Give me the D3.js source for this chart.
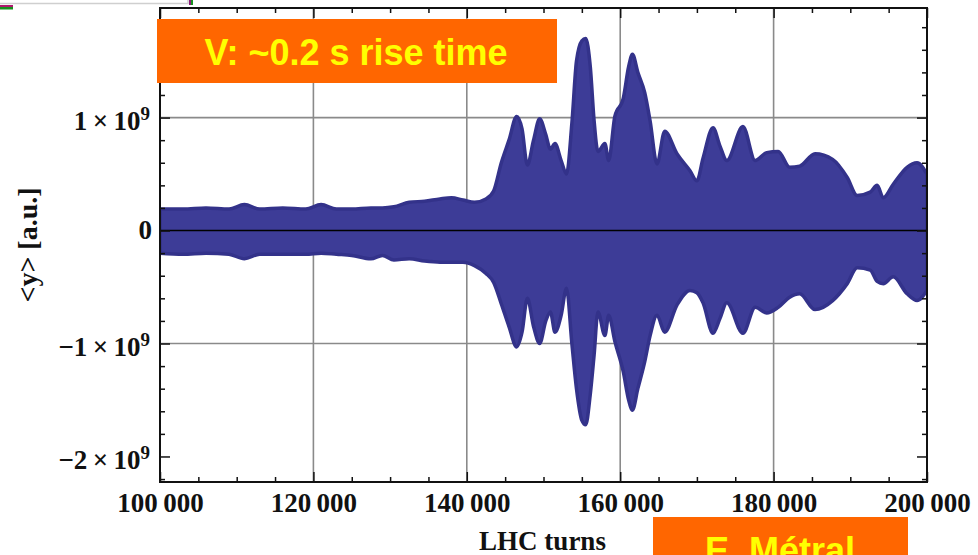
<!DOCTYPE html>
<html>
<head>
<meta charset="utf-8">
<script src="https://cdn.jsdelivr.net/npm/d3@7"></script>
<style>
  body { margin: 0; background: #fff; }
  svg { display: block; }
  .axis text { font-family: "Liberation Serif", "Times New Roman", serif; font-weight: bold; font-size: 27px; fill: #111; }
  .axis line { stroke: #111; stroke-width: 1.5; }
  .axis .domain { display: none; }
  .grid line { stroke: #8a8a8a; stroke-width: 1.6; }
  .axis-label { font-family: "Liberation Serif", "Times New Roman", serif; font-weight: bold; fill: #111; }
  .banner text { font-family: "Liberation Sans", Arial, sans-serif; font-weight: bold; font-size: 36px; fill: #ffff00; }
</style>
</head>
<body>
<div id="chart"></div>
<script>
// envelope of the <y> scatter, sampled along the turn axis (values in units of 1e9)
const turns = [100000, 103000, 106000, 109000, 111000, 113000, 116000, 119000, 121000, 123000,
  125000, 127500, 129000, 130500, 132500, 134500, 136500, 138000, 139500, 141000,
  142500, 143500, 144500, 145500, 146500, 147200, 147900, 148700, 149500, 150300,
  150900, 151500, 152300, 153000, 153700, 154300, 155000, 155500, 156100, 156600,
  157100, 158000, 158500, 159300, 160400, 161100, 161600, 162300, 163200, 163900,
  164800, 165800, 167400, 169100, 170000, 170800, 172100, 173000, 173900, 176000,
  177600, 179100, 180600, 182100, 183400, 185400, 187700, 189600, 190900, 192600,
  193500, 194300, 195600, 197400, 198700, 200000]
const upperEnv = [0.19, 0.19, 0.20, 0.19, 0.23, 0.19, 0.20, 0.19, 0.23, 0.19,
  0.19, 0.20, 0.20, 0.21, 0.25, 0.26, 0.28, 0.29, 0.27, 0.25,
  0.28, 0.35, 0.60, 0.80, 1.01, 0.90, 0.58, 0.80, 0.99, 0.85,
  0.72, 0.77, 0.62, 0.50, 0.95, 1.50, 1.68, 1.70, 1.45, 0.97,
  0.70, 0.77, 0.62, 1.01, 1.17, 1.45, 1.56, 1.40, 1.22, 0.97,
  0.59, 0.88, 0.68, 0.53, 0.44, 0.64, 0.91, 0.75, 0.62, 0.92,
  0.62, 0.69, 0.70, 0.56, 0.57, 0.68, 0.63, 0.47, 0.31, 0.34,
  0.40, 0.29, 0.41, 0.56, 0.60, 0.50]
const lowerEnv = [-0.20, -0.21, -0.20, -0.21, -0.25, -0.21, -0.21, -0.21, -0.20, -0.21,
  -0.22, -0.25, -0.22, -0.26, -0.25, -0.27, -0.28, -0.28, -0.28, -0.31,
  -0.38, -0.46, -0.65, -0.85, -1.03, -0.90, -0.60, -0.85, -1.00, -0.80,
  -0.72, -0.90, -0.75, -0.51, -1.00, -1.40, -1.68, -1.72, -1.45, -1.10,
  -0.72, -0.93, -0.75, -0.98, -1.25, -1.50, -1.59, -1.40, -1.16, -0.93,
  -0.75, -0.90, -0.66, -0.53, -0.55, -0.64, -0.91, -0.78, -0.64, -0.91,
  -0.68, -0.73, -0.68, -0.59, -0.56, -0.70, -0.62, -0.47, -0.33, -0.35,
  -0.45, -0.47, -0.41, -0.56, -0.62, -0.53]

// axis ticks and labels
const xMajorTicks = [100000, 120000, 140000, 160000, 180000, 200000]
const xTickLabels = ["100\u2009000", "120\u2009000", "140\u2009000", "160\u2009000", "180\u2009000", "200\u2009000"]
const xGridTicks = [120000, 140000, 160000, 180000]
const yMajorTicks = [-2, -1, 0, 1]
const yGridTicks = [-1, 1]

const width = 978, height = 555
const margin = {top: 8, right: 51, bottom: 73, left: 160}
const w = width - margin.left - margin.right
const h = height - margin.top - margin.bottom

const svg = d3.select("#chart").append("svg")
  .attr("width", width)
  .attr("height", height)

// little slide leftovers at the top-left corner
svg.append("path").attr("d", "M0,3.5H188V0").attr("fill", "none").attr("stroke", "#cfcfcf").attr("stroke-width", 1.5)
svg.append("rect").attr("x", 0).attr("y", 5).attr("width", 13).attr("height", 2).attr("fill", "#b0186e")
svg.append("rect").attr("x", 0).attr("y", 7).attr("width", 13).attr("height", 2.5).attr("fill", "#17901f")
svg.append("rect").attr("x", 189).attr("y", 0).attr("width", 2).attr("height", 5).attr("fill", "#8a1a7a")
svg.append("rect").attr("x", 191).attr("y", 0).attr("width", 2).attr("height", 5).attr("fill", "#17901f")

const g = svg.append("g").attr("transform", "translate(" + margin.left + "," + margin.top + ")")

// SCALES
const xScale = d3.scaleLinear().domain([100000, 200000]).range([0, w])
const yScale = d3.scaleLinear().domain([-2.226, 1.97]).range([h, 0])

// GRID (behind the data)
const grid = g.append("g").attr("class", "grid")
grid.selectAll(".vg").data(xGridTicks).enter().append("line")
  .attr("x1", d => xScale(d)).attr("x2", d => xScale(d))
  .attr("y1", 0).attr("y2", h)
grid.selectAll(".hg").data(yGridTicks).enter().append("line")
  .attr("y1", d => yScale(d)).attr("y2", d => yScale(d))
  .attr("x1", 0).attr("x2", w)

// DATA: filled envelope of the dense point cloud
const env = turns.map((t, i) => ({t: t, hi: upperEnv[i], lo: lowerEnv[i]}))
g.append("clipPath").attr("id", "plot-clip")
  .append("rect").attr("width", w).attr("height", h)

const area = d3.area()
  .x(d => xScale(d.t))
  .y0(d => yScale(d.lo))
  .y1(d => yScale(d.hi))
  .curve(d3.curveMonotoneX)

g.append("path")
  .datum(env)
  .attr("clip-path", "url(#plot-clip)")
  .attr("d", area)
  .attr("fill", "#3d3c97")
  .attr("stroke", "#33328a")
  .attr("stroke-width", 3.5)
  .attr("stroke-linejoin", "round")

// zero line
g.append("line")
  .attr("x1", 0).attr("x2", w)
  .attr("y1", yScale(0)).attr("y2", yScale(0))
  .attr("stroke", "#000").attr("stroke-width", 1.6)

// AXES: minor ticks
const xMinor = d3.range(100000, 200001, 5000).filter(d => xMajorTicks.indexOf(d) < 0)
const yMinor = d3.range(-22, 19, 2).map(d => d / 10).filter(d => yMajorTicks.indexOf(d) < 0)

g.append("g").attr("class", "axis").attr("transform", "translate(0," + h + ")")
  .call(d3.axisBottom(xScale).tickValues(xMinor).tickSize(-5).tickFormat(""))
g.append("g").attr("class", "axis")
  .call(d3.axisTop(xScale).tickValues(xMinor).tickSize(-5).tickFormat(""))
g.append("g").attr("class", "axis")
  .call(d3.axisLeft(yScale).tickValues(yMinor).tickSize(-5).tickFormat(""))
g.append("g").attr("class", "axis").attr("transform", "translate(" + w + ",0)")
  .call(d3.axisRight(yScale).tickValues(yMinor).tickSize(-5).tickFormat(""))

// AXES: major ticks with labels
g.append("g").attr("class", "x axis").attr("transform", "translate(0," + h + ")")
  .call(d3.axisBottom(xScale).tickValues(xMajorTicks).tickSize(-10).tickPadding(11)
    .tickFormat((d, i) => xTickLabels[i]))
g.append("g").attr("class", "axis")
  .call(d3.axisTop(xScale).tickValues(xMajorTicks).tickSize(-10).tickFormat(""))
g.append("g").attr("class", "axis").attr("transform", "translate(" + w + ",0)")
  .call(d3.axisRight(yScale).tickValues(yMajorTicks).tickSize(-10).tickFormat(""))

const yAxis = g.append("g").attr("class", "y axis")
  .call(d3.axisLeft(yScale).tickValues(yMajorTicks).tickSize(-10).tickPadding(10))
yAxis.selectAll(".tick text").each(function(d) {
  const t = d3.select(this).text(null)
  if (d === 0) {
    t.attr("dy", "0.29em").attr("x", -8).text("0")
  } else {
    t.attr("dy", "0.45em")
    t.append("tspan").text((d < 0 ? "\u2212" : "") + Math.abs(d) + "\u2009\u00d7\u200910")
    t.append("tspan").attr("dy", "-0.55em").attr("font-size", "19px").text("9")
  }
})

// frame
g.append("rect")
  .attr("width", w).attr("height", h)
  .attr("fill", "none").attr("stroke", "#111").attr("stroke-width", 2)

// AXIS LABELS
svg.append("text")
  .attr("class", "axis-label")
  .attr("x", margin.left + w / 2 - 1)
  .attr("y", 550)
  .attr("text-anchor", "middle")
  .attr("font-size", 27)
  .text("LHC turns")

svg.append("text")
  .attr("class", "axis-label")
  .attr("transform", "translate(37,245) rotate(-90)")
  .attr("text-anchor", "middle")
  .attr("font-size", 28)
  .text("<y> [a.u.]")

// orange banners
const topBanner = svg.append("g").attr("class", "banner")
topBanner.append("rect").attr("x", 157).attr("y", 19).attr("width", 400).attr("height", 64).attr("fill", "#ff6600")
topBanner.append("text").attr("x", 356).attr("y", 65).attr("text-anchor", "middle").text("V: ~0.2 s rise time")

const bottomBanner = svg.append("g").attr("class", "banner")
bottomBanner.append("rect").attr("x", 653).attr("y", 517).attr("width", 255).attr("height", 45).attr("fill", "#ff6600")
bottomBanner.append("text").attr("x", 780).attr("y", 563).attr("text-anchor", "middle").text("E. Métral")
</script>
</body>
</html>
